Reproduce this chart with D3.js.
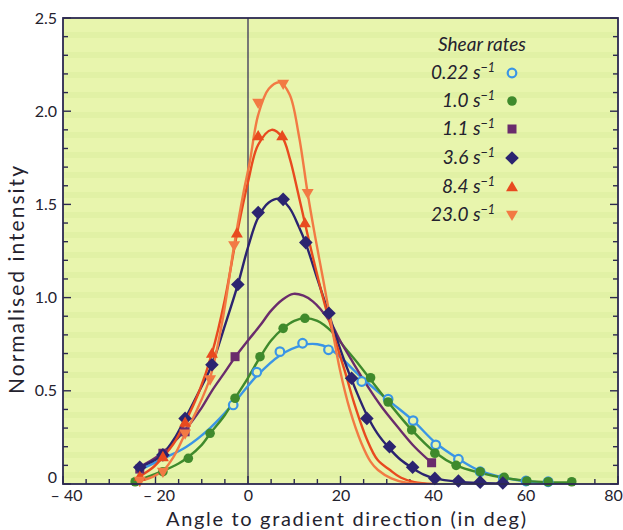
<!DOCTYPE html>
<html>
<head>
<meta charset="utf-8">
<script src="https://cdn.jsdelivr.net/npm/d3@7"></script>
<style>
  html, body { margin: 0; padding: 0; background: #ffffff; }
  svg { display: block; font-family: Lato, "Open Sans", sans-serif; }
</style>
</head>
<body>
<svg id="chart" width="623" height="530"></svg>
<script>
// Axis ticks and labels
const xTicks = [-40, -20, 0, 20, 40, 60, 80];
const xTickLabels = ["\u2013 40", "\u2013 20", "0", "20", "40", "60", "80"];
const yTicks = [0, 0.5, 1.0, 1.5, 2.0, 2.5];
const yTickLabels = ["0", "0.5", "1.0", "1.5", "2.0", "2.5"];

// Shear rates (legend order)
const rates = ["0.22", "1.0", "1.1", "3.6", "8.4", "23.0"];

// Measured points [angle, intensity] per shear rate
const pts022 = [[-3.2,0.424],[1.9,0.60],[6.9,0.71],[11.8,0.755],[17.4,0.72],[24.6,0.55],[30.3,0.455],[35.7,0.34],[40.6,0.21],[45.5,0.133],[50.2,0.066],[55.2,0.03],[60.1,0.016],[64.9,0.012]];
const pts10  = [[-24.4,0.012],[-18.4,0.066],[-12.9,0.138],[-8.2,0.272],[-2.8,0.46],[2.6,0.683],[7.6,0.835],[12.3,0.889],[26.5,0.57],[30.3,0.44],[35.4,0.29],[40.4,0.165],[45.0,0.10],[50.2,0.066],[55.4,0.036],[60.3,0.016],[64.9,0.012],[70.0,0.012]];
const pts11  = [[-23.4,0.08],[-18.4,0.165],[-13.6,0.28],[-2.8,0.683],[39.7,0.114]];
const pts36  = [[-23.4,0.09],[-18.4,0.156],[-13.6,0.352],[-7.8,0.64],[-2.2,1.07],[2.2,1.456],[7.6,1.527],[12.5,1.295],[17.5,0.916],[22.4,0.567],[25.7,0.352],[30.6,0.20],[35.6,0.09],[40.4,0.03],[45.5,0.016],[50.2,0.01],[55.1,0.005]];
const pts84  = [[-23.4,0.04],[-18.4,0.145],[-13.6,0.33],[-7.8,0.70],[-2.4,1.345],[2.2,1.867],[7.4,1.867],[12.3,1.40]];
const pts230 = [[-23.4,0.016],[-18.4,0.065],[-13.6,0.27],[-8.2,0.56],[-3.0,1.28],[2.2,2.044],[7.6,2.146],[12.9,1.56]];

// Fitted curves [angle, intensity] per shear rate
const fit022 = [[-24,0.07],[-22.6,0.085],[-18,0.14],[-13.3,0.2],[-8.2,0.3],[-3.2,0.43],[1.9,0.58],[6.9,0.69],[11.8,0.745],[15,0.75],[17.4,0.73],[20,0.68],[24.6,0.57],[30.3,0.45],[35.7,0.34],[40.6,0.22],[45.5,0.135],[50.2,0.07],[55.2,0.035],[60.1,0.015],[65,0.006],[70,0.002]];
const fit10  = [[-25,0.01],[-22,0.035],[-18.4,0.07],[-15,0.11],[-12.9,0.145],[-10,0.21],[-8.2,0.27],[-5,0.37],[-2.8,0.46],[0,0.57],[2.6,0.68],[5,0.77],[7.6,0.835],[10,0.875],[12.3,0.89],[15,0.875],[18,0.82],[21,0.73],[24,0.64],[26.5,0.56],[30.3,0.44],[35.4,0.29],[40.4,0.17],[45,0.1],[50.2,0.06],[55.4,0.033],[60.3,0.017],[65,0.01],[70,0.008]];
const fit11  = [[-24,0.08],[-23.4,0.09],[-18.4,0.17],[-13.6,0.29],[-10,0.41],[-7.8,0.5],[-5,0.6],[-2.8,0.68],[0,0.77],[2.6,0.85],[5,0.93],[7.5,0.99],[9.8,1.02],[12,1.01],[14,0.98],[15.6,0.94],[18,0.86],[19.9,0.77],[22.5,0.66],[25.7,0.53],[29,0.41],[32.9,0.29],[36,0.2],[39.7,0.114]];
const fit36  = [[-24,0.08],[-23.4,0.09],[-20,0.13],[-18.4,0.16],[-16,0.24],[-13.6,0.35],[-10.5,0.5],[-7.8,0.64],[-5,0.85],[-2.2,1.07],[0,1.27],[2.2,1.43],[4.5,1.51],[6.9,1.53],[9,1.48],[11,1.38],[12.5,1.29],[15,1.1],[17.5,0.91],[20,0.72],[22.4,0.56],[25.7,0.37],[28,0.27],[30.6,0.19],[33,0.13],[35.6,0.085],[38,0.05],[40.4,0.03],[45.5,0.012],[50.2,0.005],[55.1,0.002]];
const fit84  = [[-24.5,0.02],[-23.4,0.04],[-20.5,0.09],[-18.4,0.145],[-16,0.22],[-13.6,0.33],[-10.5,0.5],[-7.8,0.70],[-5,0.99],[-2.4,1.34],[0,1.62],[2.2,1.82],[5.1,1.9],[7.4,1.86],[9,1.75],[10.2,1.63],[12.3,1.40],[14,1.22],[16,1.02],[18,0.84],[21,0.6],[23,0.43],[25.7,0.24],[28,0.13],[30.7,0.075],[33,0.035],[36,0.01],[40,0]];
const fit230 = [[-24.5,0.008],[-23.4,0.016],[-20.5,0.04],[-18.4,0.07],[-16,0.15],[-13.6,0.27],[-11,0.4],[-8.2,0.57],[-5.5,0.88],[-3,1.28],[-1,1.56],[0.4,1.73],[2.2,1.98],[4.5,2.12],[6.9,2.155],[9,2.09],[11,1.87],[12.9,1.56],[14.5,1.33],[16.3,1.09],[18,0.86],[19.9,0.61],[22,0.4],[24.5,0.22],[26.5,0.12],[28.1,0.075],[31,0.03],[34,0.008],[38,0]];

// Styling per series
const colors  = ["#3a95e6", "#3f8a2c", "#6a2c6c", "#2b2470", "#e84a1f", "#f27a44"];
const symbols = ["openCircle", "circle", "square", "diamond", "triangleUp", "triangleDown"];
const seriesPts = [pts022, pts10, pts11, pts36, pts84, pts230];
const seriesFit = [fit022, fit10, fit11, fit36, fit84, fit230];

const plotL = 63, plotR = 618, plotT = 18, plotB = 484;
const bg = "#e8f5ad";
const frameColor = "#2c2950";
const textColor = "#24222e";

const x = d3.scaleLinear().domain([-40, 80]).range([plotL, plotR]);
const y = d3.scaleLinear().domain([0, 2.5]).range([plotB, plotT]);

const svg = d3.select("#chart");
const defs = svg.append("defs");

// faint horizontal banding of the plot background
const pat = defs.append("pattern").attr("id", "bands")
  .attr("patternUnits", "userSpaceOnUse").attr("width", 40).attr("height", 20);
pat.append("rect").attr("width", 40).attr("height", 20).attr("fill", bg);
pat.append("rect").attr("y", 12).attr("width", 40).attr("height", 6).attr("fill", "#dceea0").attr("opacity", 0.6);

defs.append("clipPath").attr("id", "plotClip")
  .append("rect").attr("x", plotL).attr("y", plotT).attr("width", plotR - plotL).attr("height", plotB - plotT);

svg.append("rect").attr("x", plotL).attr("y", plotT)
  .attr("width", plotR - plotL).attr("height", plotB - plotT)
  .attr("fill", "url(#bands)");

// zero-angle reference line
svg.append("line")
  .attr("x1", x(0)).attr("x2", x(0)).attr("y1", y(0)).attr("y2", y(2.5))
  .attr("stroke", "#3b3358").attr("stroke-width", 1.3);

// minor/major ticks pointing inward
const tickG = svg.append("g").attr("stroke", frameColor).attr("stroke-width", 1.4);
d3.range(-40, 80.1, 5).forEach(v => {
  const len = (v % 20 === 0) ? 8 : 5;
  tickG.append("line").attr("x1", x(v)).attr("x2", x(v)).attr("y1", plotB).attr("y2", plotB - len);
});
d3.range(0, 2.51, 0.1).forEach(v => {
  const major = Math.abs(v * 2 - Math.round(v * 2)) < 1e-6;
  const len = major ? 8 : 5;
  tickG.append("line").attr("x1", plotL).attr("x2", plotL + len).attr("y1", y(v)).attr("y2", y(v));
  tickG.append("line").attr("x1", plotR).attr("x2", plotR - len).attr("y1", y(v)).attr("y2", y(v));
});

// tick labels via d3 axes (tick lines drawn separately above)
const xAxis = d3.axisBottom(x).tickValues(xTicks).tickSize(0).tickPadding(5)
  .tickFormat((d, i) => xTickLabels[i]);
const gx = svg.append("g").attr("transform", `translate(0,${plotB})`).call(xAxis);
gx.select(".domain").remove();
gx.selectAll("text").attr("font-size", 16).attr("fill", textColor)
  .attr("font-family", "Lato, sans-serif").attr("dy", "0.75em")
  .attr("dx", d => d === 80 ? -5 : (d < 0 ? 3 : 0));

const yAxis = d3.axisLeft(y).tickValues(yTicks).tickSize(0).tickPadding(6)
  .tickFormat((d, i) => yTickLabels[i]);
const gy = svg.append("g").attr("transform", `translate(${plotL},0)`).call(yAxis);
gy.select(".domain").remove();
gy.selectAll("text").attr("font-size", 16).attr("fill", textColor)
  .attr("font-family", "Lato, sans-serif")
  .attr("dy", d => d === 0 ? "-0.12em" : "0.32em");

// curves
const line = d3.line().x(d => x(d[0])).y(d => y(d[1])).curve(d3.curveCatmullRom.alpha(0.5));
const curves = svg.append("g").attr("clip-path", "url(#plotClip)");
seriesFit.forEach((f, i) => {
  curves.append("path").attr("d", line(f)).attr("fill", "none")
    .attr("stroke", colors[i]).attr("stroke-width", 2.4).attr("stroke-linejoin", "round");
});

// marker drawing
function drawMarker(g, kind, cx, cy, color) {
  if (kind === "openCircle") {
    g.append("circle").attr("cx", cx).attr("cy", cy).attr("r", 4.3)
      .attr("fill", bg).attr("stroke", color).attr("stroke-width", 2.2);
  } else if (kind === "circle") {
    g.append("circle").attr("cx", cx).attr("cy", cy).attr("r", 4.8).attr("fill", color);
  } else if (kind === "square") {
    const a = 9;
    g.append("rect").attr("x", cx - a / 2).attr("y", cy - a / 2).attr("width", a).attr("height", a).attr("fill", color);
  } else if (kind === "diamond") {
    g.append("path").attr("d", "M0,-6.8L6.8,0L0,6.8L-6.8,0Z")
      .attr("transform", `translate(${cx},${cy})`).attr("fill", color);
  } else if (kind === "triangleUp") {
    g.append("path").attr("d", d3.symbol(d3.symbolTriangle, 62)())
      .attr("transform", `translate(${cx},${cy + 0.8})`).attr("fill", color);
  } else if (kind === "triangleDown") {
    g.append("path").attr("d", d3.symbol(d3.symbolTriangle, 62)())
      .attr("transform", `translate(${cx},${cy - 0.8}) rotate(180)`).attr("fill", color);
  }
}

const marks = svg.append("g");
seriesPts.forEach((pts, i) => {
  pts.forEach(p => drawMarker(marks, symbols[i], x(p[0]), y(p[1]), colors[i]));
});

// frame
svg.append("rect").attr("x", plotL).attr("y", plotT)
  .attr("width", plotR - plotL).attr("height", plotB - plotT)
  .attr("fill", "none").attr("stroke", frameColor).attr("stroke-width", 1.8);

// axis titles
svg.append("text").attr("x", 346).attr("y", 526).attr("text-anchor", "middle")
  .attr("font-size", 20).attr("fill", textColor)
  .attr("textLength", 360).attr("lengthAdjust", "spacing")
  .text("Angle to gradient direction (in deg)");
svg.append("text").attr("transform", "translate(24,280) rotate(-90)").attr("text-anchor", "middle")
  .attr("font-size", 21).attr("fill", textColor)
  .attr("textLength", 228).attr("lengthAdjust", "spacing")
  .text("Normalised intensity");

// legend
const lg = svg.append("g").attr("font-style", "italic").attr("fill", textColor);
lg.append("text").attr("x", 482).attr("y", 51).attr("text-anchor", "middle")
  .attr("font-size", 19).text("Shear rates");
const rowY = [73, 101, 129, 158, 187, 215];
rates.forEach((r, i) => {
  const t = lg.append("text").attr("x", 495).attr("y", rowY[i] + 6).attr("text-anchor", "end").attr("font-size", 19);
  t.append("tspan").text(r + " s");
  t.append("tspan").attr("dy", -7).attr("font-size", 12.5).text("\u22121");
  drawMarker(svg, symbols[i], 512, rowY[i], colors[i]);
});
</script>
</body>
</html>
